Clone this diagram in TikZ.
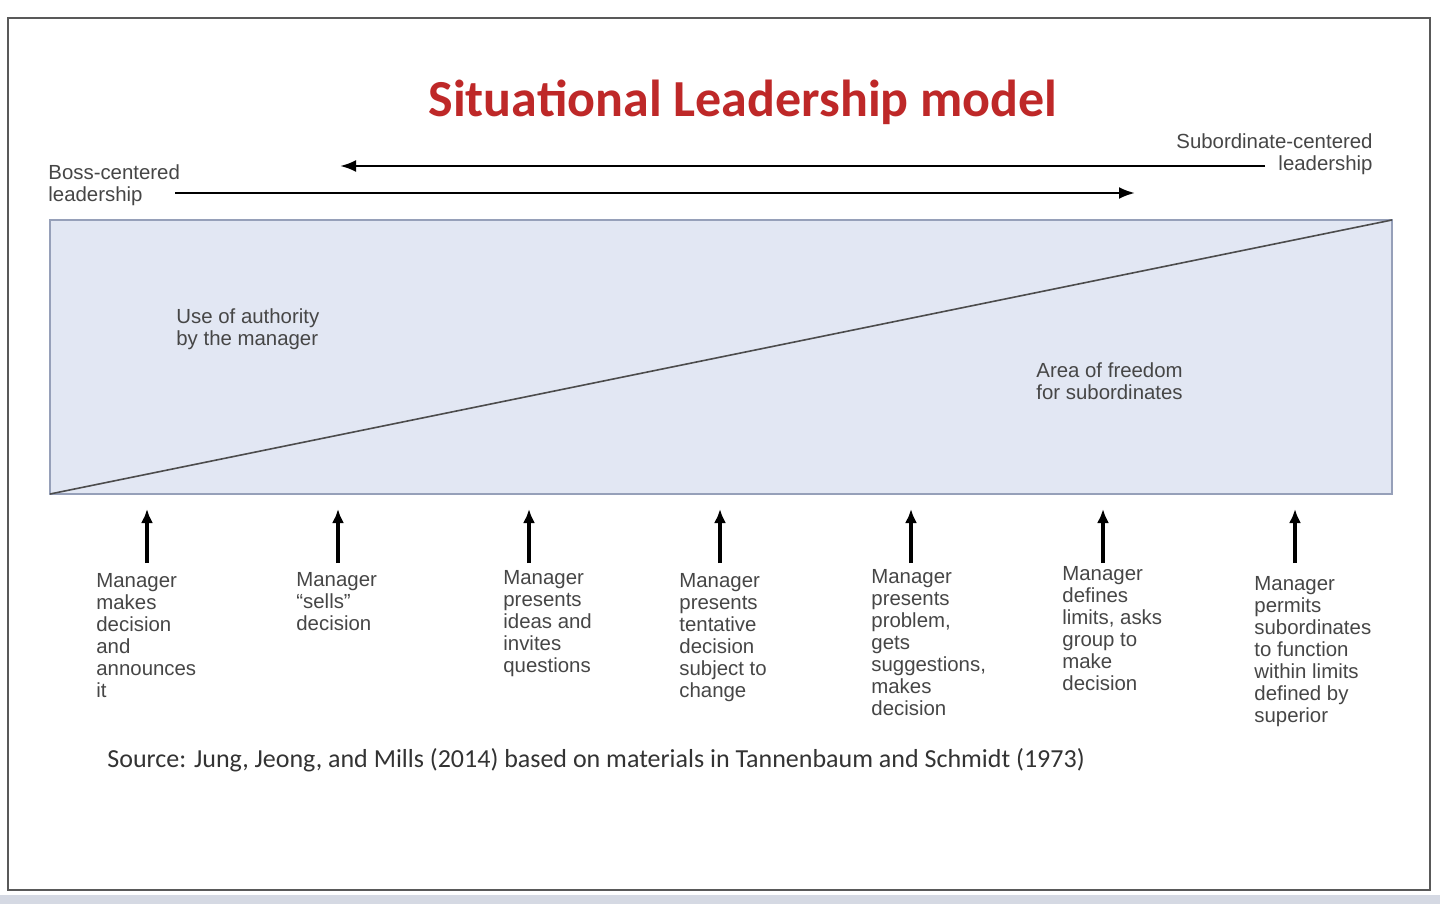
\documentclass[tikz,border=0pt]{standalone}
\usepackage{fontspec}
\usetikzlibrary{arrows.meta}
\setmainfont{Liberation Sans}
\newfontfamily\calfont{Carlito}
\definecolor{titred}{RGB}{190,40,40}
\definecolor{boxfill}{RGB}{226,231,243}
\definecolor{boxline}{RGB}{150,160,185}
\definecolor{txt}{RGB}{70,70,70}
\begin{document}
\begin{tikzpicture}[x=0.5pt,y=-0.5pt,
  lbl/.style={anchor=north west,align=left,inner sep=0pt,font=\fontsize{10.2}{11}\selectfont,text=txt},
  uparr/.style={-{Latex[length=7pt,width=6pt]},line width=1.6pt},
  harr/.style={-{Latex[length=8pt,width=6pt]},line width=1.3pt}]
\useasboundingbox (0,0) rectangle (1440,904);
\fill[white] (0,0) rectangle (1440,904);
\fill[boxline!40] (0,895) rectangle (1440,904);
\draw[gray!70!black,line width=1pt] (8,18) rectangle (1430,890);
\node[font=\calfont\bfseries\fontsize{26}{28}\selectfont,text=titred] (title) at (743,102) {Situational Leadership model};
\node[lbl] (boss) at (48,164) {Boss-centered\\leadership};
\node[lbl,anchor=north east,align=right] (sub) at (1373,133) {Subordinate-centered\\leadership};
\coordinate (a1s) at (1265,166); \coordinate (a1e) at (340,166);
\coordinate (a2s) at (175,193); \coordinate (a2e) at (1135,193);
\draw[harr] (a1s) -- (a1e);
\draw[harr] (a2s) -- (a2e);
\draw[fill=boxfill,draw=boxline,line width=1pt] (50,220) rectangle (1392,494);
\coordinate (dl) at (50,494); \coordinate (dr) at (1392,220);
\draw[gray!60!black,line width=0.8pt] (dl) -- (dr);
\node[lbl] (auth) at (176,308) {Use of authority\\by the manager};
\node[lbl] (free) at (1036,362) {Area of freedom\\for subordinates};
\foreach \x [count=\i] in {147,338,529,720,911,1103,1295}{
 \coordinate (b\i) at (\x,563);
 \coordinate (t\i) at (\x,509);
 \draw[uparr] (b\i) -- (t\i);
}
\node[lbl] (m1) at (96,573) {Manager\\makes\\decision\\and\\announces\\it};
\node[lbl] (m2) at (296,572) {Manager\\``sells''\\decision};
\node[lbl] (m3) at (503,570) {Manager\\presents\\ideas and\\invites\\questions};
\node[lbl] (m4) at (679,573) {Manager\\presents\\tentative\\decision\\subject to\\change};
\node[lbl] (m5) at (871,569) {Manager\\presents\\problem,\\gets\\suggestions,\\makes\\decision};
\node[lbl] (m6) at (1062,566) {Manager\\defines\\limits, asks\\group to\\make\\decision};
\node[lbl] (m7) at (1254,576) {Manager\\permits\\subordinates\\to function\\within limits\\defined by\\superior};
\node[anchor=west,inner sep=0pt,font=\calfont\fontsize{13}{15}\selectfont,text=black!80] (src) at (107,760) {Source: Jung, Jeong, and Mills (2014) based on materials in Tannenbaum and Schmidt (1973)};
\end{tikzpicture}
\end{document}
